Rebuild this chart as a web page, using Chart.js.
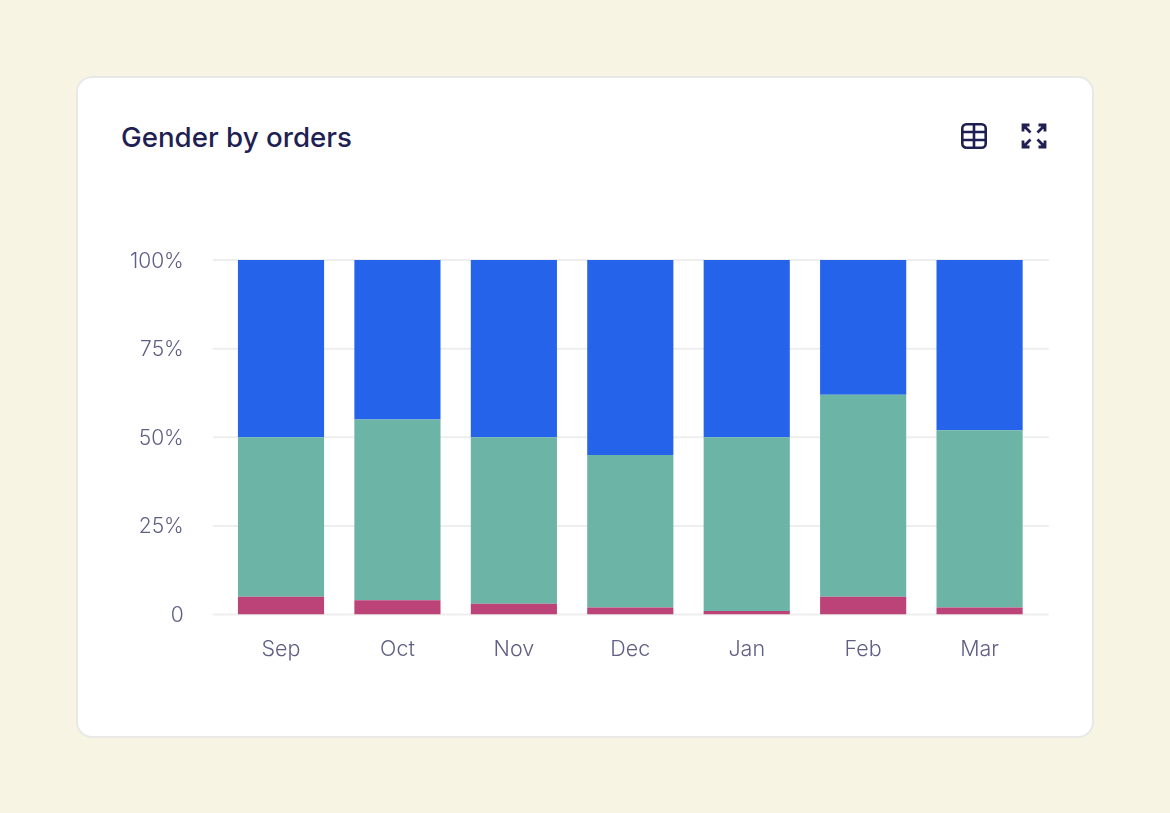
<!DOCTYPE html>
<html><head><meta charset="utf-8">
<script src="https://cdn.jsdelivr.net/npm/chart.js@4"></script>
<style>
html,body{margin:0;padding:0;width:1170px;height:813px;overflow:hidden;background:#f7f4e3}
#card{position:absolute;left:76px;top:76px;width:1014px;height:658px;background:#fff;border:2px solid #e8e8e6;border-radius:16px}
#title{position:absolute;left:121px;top:120px;font:550 27.700px/34px "Inter","Noto Sans",sans-serif;color:#1f1f54;white-space:nowrap}
canvas{position:absolute;left:0;top:0}
svg{position:absolute}
</style></head><body>
<div id="card"></div>
<div id="title">Gender by orders</div>
<canvas id="c" width="1170" height="813" style="width:1170px;height:813px"></canvas>
<svg style="left:960px;top:122px" width="28" height="28" viewBox="0 0 28 28" fill="none" stroke="#1f1f54" stroke-width="2.6"><rect x="2.3" y="2.3" width="23.4" height="23.4" rx="4"/><path d="M2.3 10H25.700M2.300 18H25.700M14 2.300V25.700"/></svg>
<svg style="left:1020px;top:122px" width="28" height="28" viewBox="0 0 28 28" fill="none" stroke="#1f1f54" stroke-width="2.8"><path d="M3 9.500V3H9.500M3 3L10.500 10.500M18.500 3H25V9.500M25 3L17.500 10.500M3 18.500V25H9.500M3 25L10.500 17.500M25 18.500V25H18.500M25 25L17.500 17.500"/></svg>
<script>
const categories=['Sep','Oct','Nov','Dec','Jan','Feb','Mar'];
const seriesRed=[5,4,3,2,1,5,2];
const seriesGreen=[45,51,47,43,49,57,50];
const seriesBlue=[50,45,50,55,50,38,48];
const yTicks={0:'0',25:'25%',50:'50%',75:'75%',100:'100%'};
const FONT='"Inter","Noto Sans",sans-serif';
const gridExtend={id:'gridExtend',beforeDatasetsDraw(ch){
  const {ctx,chartArea:a,scales:{y}}=ch;ctx.save();ctx.strokeStyle='#eeeeee';ctx.lineWidth=2;
  y.ticks.forEach(t=>{const p=y.getPixelForValue(t.value);ctx.beginPath();ctx.moveTo(a.left-10,p);ctx.lineTo(a.right+11,p);ctx.stroke();});
  ctx.restore();}};
const bar={stack:'s',barPercentage:0.74,categoryPercentage:1,borderWidth:0};
new Chart(document.getElementById('c'),{
  type:'bar',
  data:{labels:categories,datasets:[
    {...bar,label:'Female',data:seriesRed,backgroundColor:'#bc4377'},
    {...bar,label:'Male',data:seriesGreen,backgroundColor:'#6cb4a5'},
    {...bar,label:'Unknown',data:seriesBlue,backgroundColor:'#2563eb'}]},
  options:{responsive:false,animation:false,devicePixelRatio:1,
    layout:{padding:{left:120,right:132.2,top:260,bottom:140}},
    plugins:{legend:{display:false},tooltip:{enabled:false}},
    scales:{
      x:{stacked:true,grid:{display:false},border:{display:false},
        afterFit(s){s.height=58.5},
        ticks:{color:'#5f5f86',font:{family:FONT,size:21.5,weight:'300'},padding:14.5,maxRotation:0}},
      y:{stacked:true,min:0,max:100,grid:{display:false},border:{display:false},
        afterFit(s){s.width=102.8;
          const f=s._computeLabelItems;
          s._computeLabelItems=function(a){const r=f.call(this,a);r.forEach(i=>{i.options.translation[1]+=0.6});return r;};},
        ticks:{stepSize:25,color:'#5f5f86',font:{family:FONT,size:21,weight:'300'},padding:31,callback:v=>yTicks[v]}}
    }},
  plugins:[gridExtend]
});
</script>
</body></html>
